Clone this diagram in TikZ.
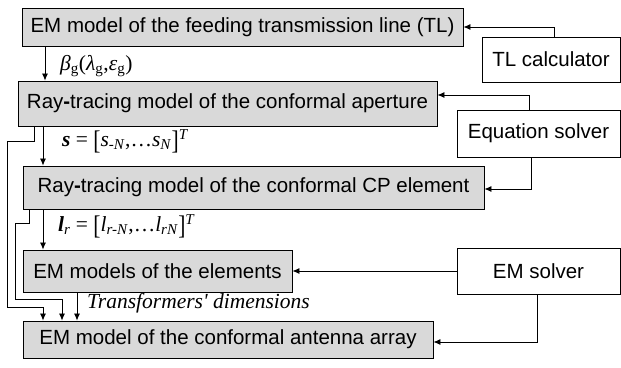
\documentclass[tikz,border=0pt]{standalone}
\usepackage{fontspec}
\setmainfont{Liberation Sans}
\newfontfamily\lblfont{Liberation Serif}
\usetikzlibrary{arrows.meta}
\definecolor{boxgray}{HTML}{D9D9D9}
\newcommand\mysub[1]{\textsubscript{#1}}
\newcommand\mysup[1]{\textsuperscript{#1}}
\newcommand\tallbr[1]{\raisebox{-0.12em}{\scalebox{1}[1.25]{#1}}}
\begin{document}
\begin{tikzpicture}[x=1pt,y=-1pt,
  mbox/.style={draw=black, fill=boxgray, line width=0.9pt, inner sep=0pt, font=\fontsize{20.5}{24}\selectfont},
  wbox/.style={draw=black, fill=white, line width=0.9pt, inner sep=0pt, font=\fontsize{20.5}{24}\selectfont},
  conn/.style={draw=black, line width=0.8pt, -{Latex[length=7pt,width=6pt]}},
  lbl/.style={inner sep=0pt, anchor=west, font=\lblfont\fontsize{21.5}{24}\selectfont}]
\useasboundingbox (0,0) rectangle (621,367);
\node[mbox, minimum width=441pt, minimum height=38pt] (b1) at (242.5,27) {EM model of the feeding transmission line (TL)};
\node[mbox, minimum width=419pt, minimum height=45pt] (b2) at (227.5,103.5) {Ray\textbf{-}tracing model of the conformal aperture};
\node[mbox, minimum width=461pt, minimum height=43pt] (b3) at (253.5,187.5) {Ray\textbf{-}tracing model of the conformal CP element};
\node[mbox, minimum width=269pt, minimum height=42pt] (b4) at (157.5,271) {EM models of the elements};
\node[mbox, minimum width=410pt, minimum height=37pt] (b5) at (228,339.5) {EM model of the conformal antenna array};
\node[wbox, minimum width=138pt, minimum height=45pt] (tl) at (551,59.5) {TL calculator};
\node[wbox, minimum width=163pt, minimum height=47pt] (eq) at (538.5,133.5) {Equation solver};
\node[wbox, minimum width=163pt, minimum height=46pt] (em) at (538.5,271) {EM solver};
% side connectors
\coordinate (c1) at (554,27);
\draw[conn] (tl.north -| c1) |- (b1.east);
\coordinate (c2) at (529,95);
\draw[conn] (eq.north -| c2) |- (c2 -| b2.east);
\coordinate (c3) at (531,189);
\draw[conn] (eq.south -| c3) |- (c3 -| b3.east);
\draw[conn] (em.west) -- (em.west -| b4.east);
\coordinate (c5) at (537,342);
\draw[conn] (em.south -| c5) |- (c5 -| b5.east);
% vertical connectors
\coordinate (v1) at (45,0);
\draw[conn] (b1.south -| v1) -- (b2.north -| v1);
\coordinate (v2) at (43,0);
\draw[conn] (b2.south -| v2) -- (b3.north -| v2);
\draw[conn] (b3.south -| v2) -- (b4.north -| v2);
\coordinate (v4) at (77,0);
\draw[conn] (b4.south -| v4) -- (b5.north -| v4);
% bypass connectors
\coordinate (p1) at (34,141);
\coordinate (p2) at (7,307);
\draw[conn] (b2.south -| p1) -- (p1) -- (p1 -| p2) -- (p2) -- (p2 -| v2) -- (b5.north -| v2);
\coordinate (q1) at (29,223);
\coordinate (q2) at (15,299);
\coordinate (v5) at (62,0);
\draw[conn] (b3.south -| q1) -- (q1) -- (q1 -| q2) -- (q2) -- (q2 -| v5) -- (b5.north -| v5);
% labels
\node[lbl] (l1) at (60,66) {\textit{β}\mysub{g}(\textit{λ}\mysub{g},\textit{ε}\mysub{g})};
\node[lbl] (l2) at (62,141) {\textbf{\textit{s}} = \tallbr{[}\textit{s}\mysub{\textit{-N}},…\textit{s}\mysub{\textit{N}}\tallbr{]}\mysup{\textit{T}}};
\node[lbl] (l3) at (58,226) {\textbf{\textit{l}}\mysub{\textit{r}} = \tallbr{[}\textit{l}\mysub{\textit{r-N}},…\textit{l}\mysub{\textit{rN}}\tallbr{]}\mysup{\textit{T}}};
\node[lbl] (l4) at (87,303) {\textit{Transformers' dimensions}};
\end{tikzpicture}
\end{document}
